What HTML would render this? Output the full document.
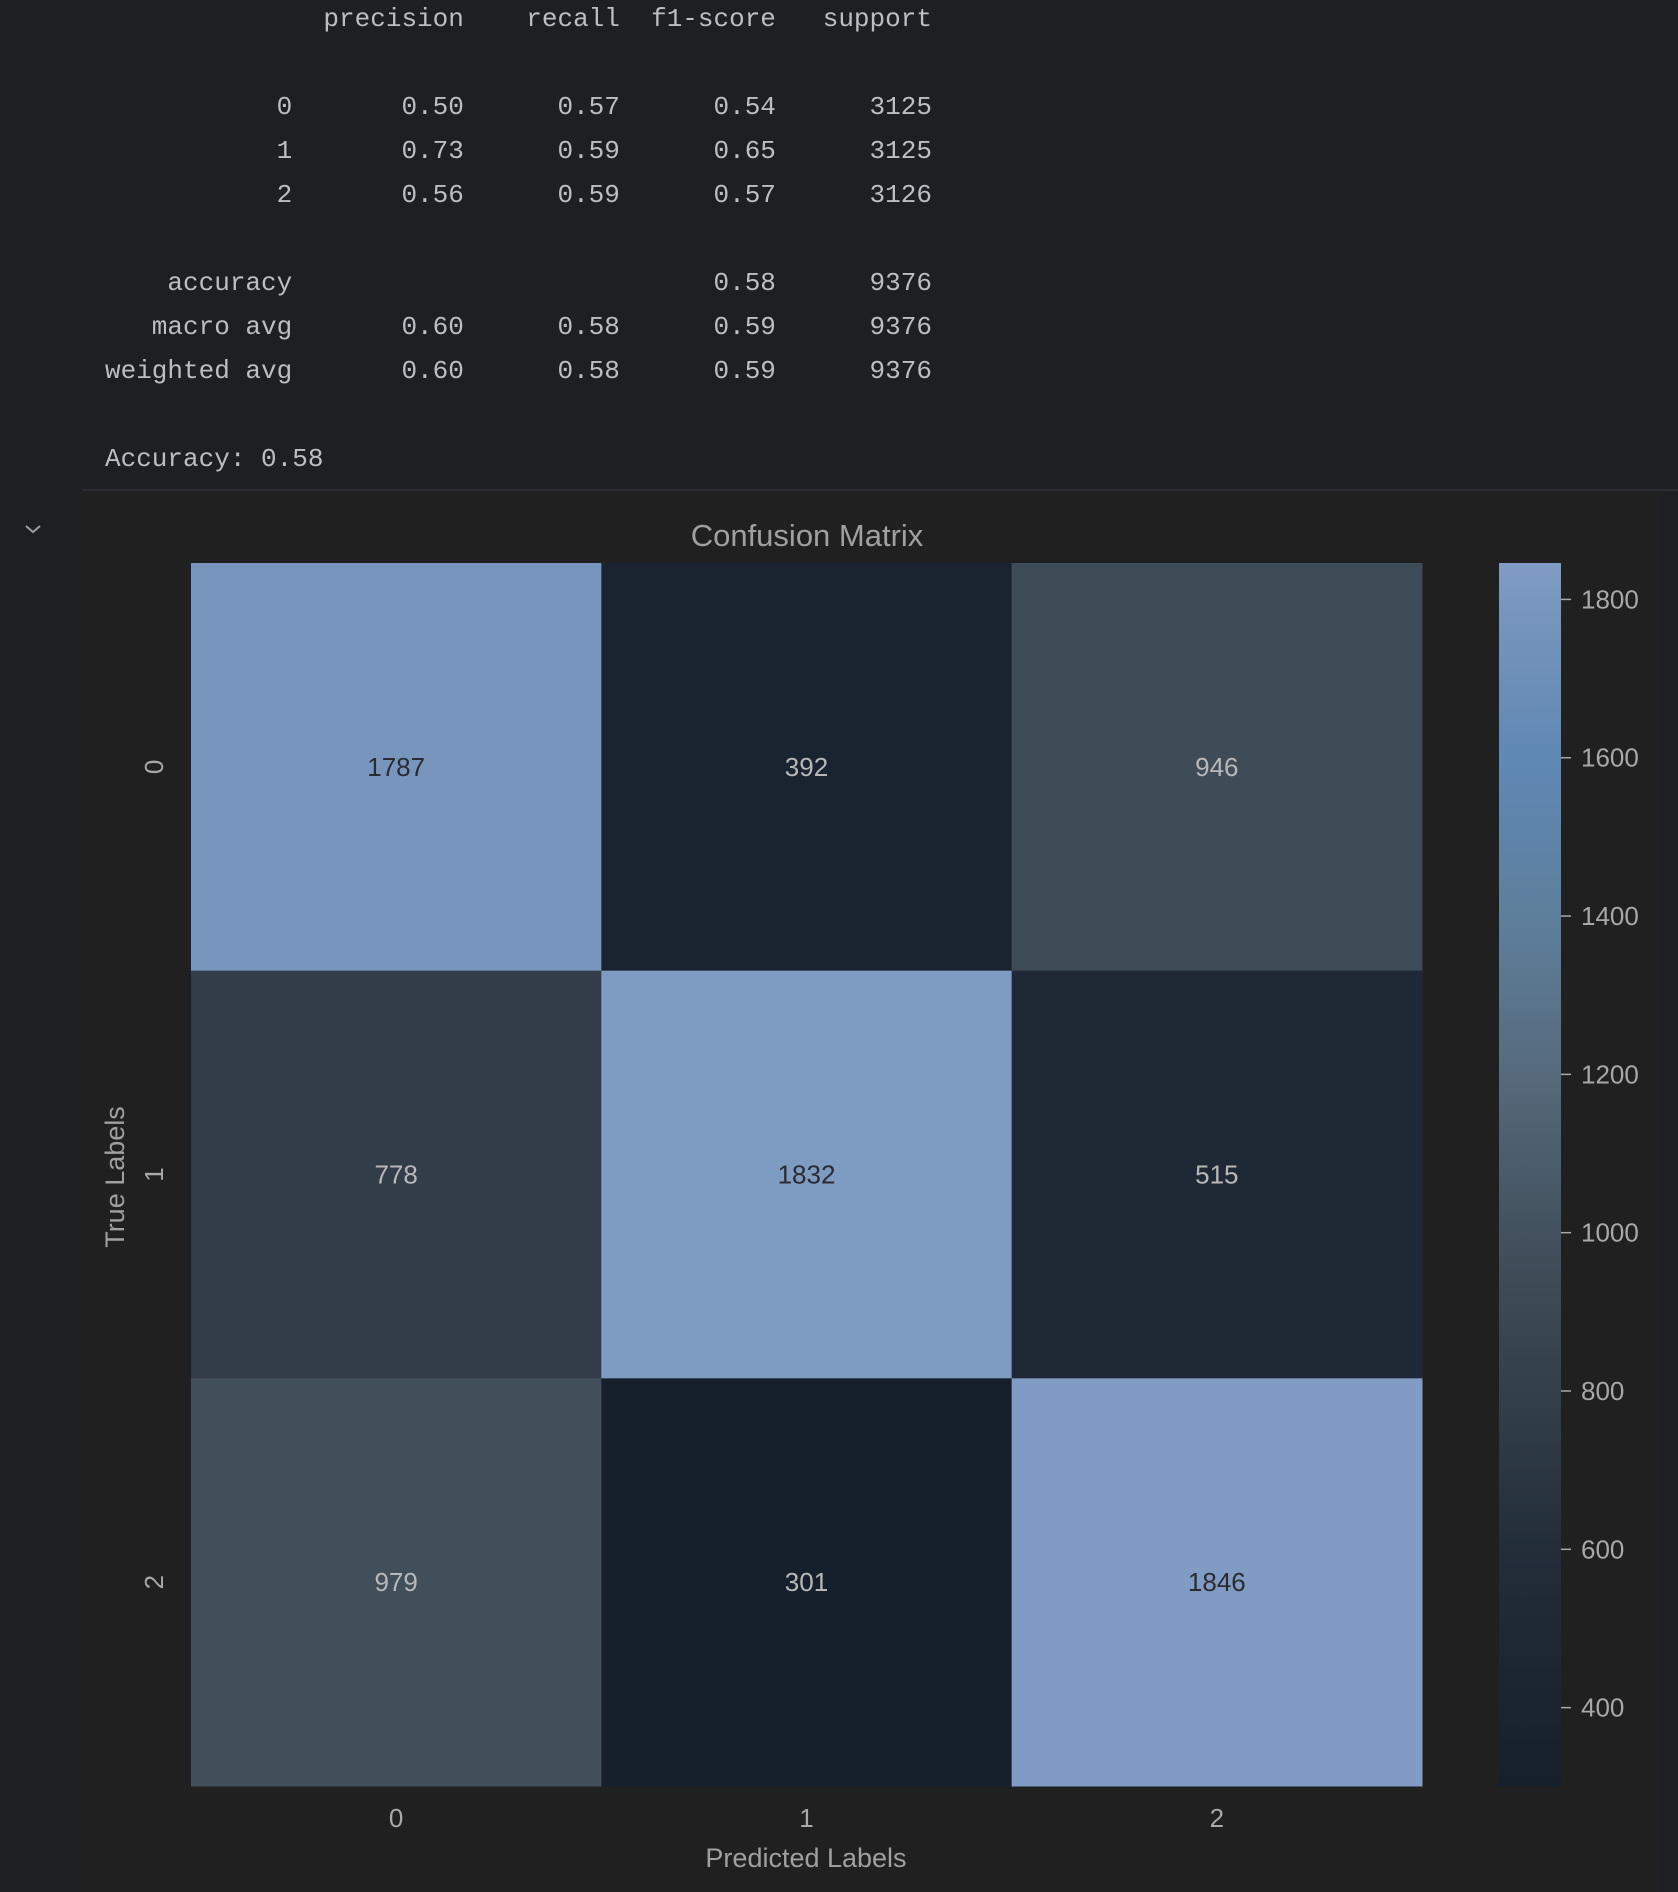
<!DOCTYPE html>
<html><head><meta charset="utf-8">
<style>
html,body{margin:0;padding:0;width:1678px;height:1892px;background:#1e1f22;overflow:hidden;}
#report{position:absolute;left:0;top:-3px;margin:0;padding-left:105px;font-family:"Liberation Mono",monospace;font-size:26px;line-height:44px;color:#bcbec4;white-space:pre;}
#sep{position:absolute;left:82px;top:489px;width:1596px;height:2px;background:#2b2d30;}
#fig{position:absolute;left:82px;top:492px;width:1578px;height:1400px;background:#202020;}
#chev{position:absolute;left:24px;top:522px;}
svg text{font-family:"Liberation Sans",sans-serif;}
</style></head><body>
<pre id="report">
              precision    recall  f1-score   support
 
           0       0.50      0.57      0.54      3125
           1       0.73      0.59      0.65      3125
           2       0.56      0.59      0.57      3126
 
    accuracy                           0.58      9376
   macro avg       0.60      0.58      0.59      9376
weighted avg       0.60      0.58      0.59      9376
 
Accuracy: 0.58</pre>
<div id="sep"></div>
<div id="chev"><svg width="18" height="14"><path d="M2 4 L9 10 L16 4" stroke="#9a9ca2" stroke-width="2" fill="none"/></svg></div>
<div id="fig"></div>
<svg id="chart" width="1678" height="1892" style="position:absolute;left:0;top:0"></svg>
<script>
const classes = ["0","1","2"];
const rowLabels = ["0","1","2"];
const matrix = [[1787,392,946],[778,1832,515],[979,301,1846]];
const cbTicks = [400,600,800,1000,1200,1400,1600,1800];
const vmin = 301, vmax = 1846;

const NS="http://www.w3.org/2000/svg";
const svg=document.getElementById('chart');
function mk(t,a,p){const e=document.createElementNS(NS,t);for(const k in a)e.setAttribute(k,a[k]);(p||svg).appendChild(e);return e;}
const stops=[[0,[22,32,44]],[0.19,[35,45,58]],[0.32,[51,63,74]],[0.45,[66,81,93]],[0.58,[86,106,124]],[0.71,[94,127,156]],[0.84,[95,136,180]],[0.95,[117,148,187]],[1,[128,156,196]]];
function cmap(v){let t=(v-vmin)/(vmax-vmin);t=Math.max(0,Math.min(1,t));
 for(let i=1;i<stops.length;i++){if(t<=stops[i][0]){const a=stops[i-1],b=stops[i];const f=(t-a[0])/(b[0]-a[0]);
 const c=a[1].map((x,j)=>Math.round(x+(b[1][j]-x)*f));return `rgb(${c})`;}}return `rgb(${stops[stops.length-1][1]})`;}
const X0=191,X1=1422,Y0=563,Y1=1786;
const cw=(X1-X0)/classes.length, ch=(Y1-Y0)/rowLabels.length;
const xPos=i=>X0+i*cw, yPos=i=>Y0+i*ch;
for(let r=0;r<rowLabels.length;r++)for(let c=0;c<classes.length;c++){
 const v=matrix[r][c];
 const rect=mk('rect',{x:xPos(c),y:yPos(r),width:cw+0.5,height:ch+0.5,fill:cmap(v)});
 
 
 const t=mk('text',{x:xPos(c)+cw/2,y:yPos(r)+ch/2+9,'text-anchor':'middle','font-size':26,fill:(v-vmin)/(vmax-vmin)>0.6?'#2a2c30':'#b8b8b8'});
 t.textContent=v;
 
 
}
classes.forEach((l,i)=>{const t=mk('text',{x:xPos(i)+cw/2,y:1827,'text-anchor':'middle','font-size':26,fill:'#a8a8a8'});t.textContent=l;
 
 });
rowLabels.forEach((l,i)=>{const cy=yPos(i)+ch/2;const t=mk('text',{x:163,y:cy,'text-anchor':'middle','font-size':26,fill:'#a8a8a8',transform:`rotate(-90 163 ${cy})`});t.textContent=l;
 
 });
let t=mk('text',{x:807,y:546,'text-anchor':'middle','font-size':31,fill:'#a0a0a0'});t.textContent='Confusion Matrix';


t=mk('text',{x:806,y:1867,'text-anchor':'middle','font-size':27,fill:'#a0a0a0'});t.textContent='Predicted Labels';


t=mk('text',{x:124,y:1177,'text-anchor':'middle','font-size':27,fill:'#a0a0a0',transform:'rotate(-90 124 1177)'});t.textContent='True Labels';


const CX0=1499,CX1=1561;
const cbY=v=>Y1-(v-vmin)/(vmax-vmin)*(Y1-Y0);
const defs=mk('defs',{});const g=mk('linearGradient',{id:'cbg',x1:0,y1:1,x2:0,y2:0},defs);
stops.forEach(s=>mk('stop',{offset:s[0],'stop-color':`rgb(${s[1]})`},g));
const cb=mk('rect',{x:CX0,y:Y0,width:CX1-CX0,height:Y1-Y0,fill:'url(#cbg)'});


cbTicks.forEach(v=>{const y=cbY(v);mk('line',{x1:CX1,x2:CX1+10,y1:y,y2:y,stroke:'#a8a8a8','stroke-width':1.5});
 const tt=mk('text',{x:CX1+20,y:y+9,'font-size':26,fill:'#a8a8a8'});tt.textContent=v;
 
 });
</script>
</body></html>
